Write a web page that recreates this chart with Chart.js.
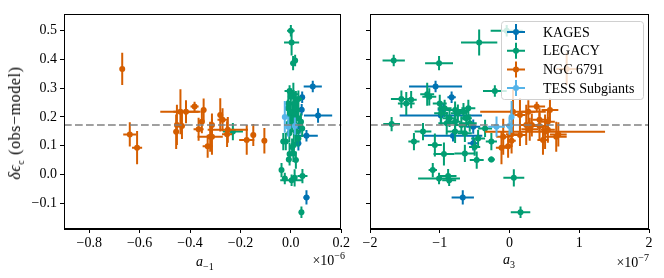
<!DOCTYPE html>
<html>
<head>
<meta charset="utf-8">
<script src="https://cdn.jsdelivr.net/npm/chart.js@4.4.1/dist/chart.umd.min.js"></script>
<style>
body { margin: 0; background: #fff; }
#wrap { position: relative; width: 664px; height: 278px; font-family: 'Liberation Serif', serif; color: #000; }
canvas { position: absolute; top: 0; }
.lbl { position: absolute; font-size: 14px; white-space: nowrap; line-height: 1; }
.lbl .sub { font-size: 10px; position: relative; top: 4px; }
.lbl .sup { font-size: 10px; position: relative; top: -6px; }
</style>
</head>
<body>
<div id="wrap">
  <canvas id="leftChart" width="352" height="278" style="left:0"></canvas>
  <canvas id="rightChart" width="312" height="278" style="left:352px"></canvas>
  <div class="lbl" style="left:196px;top:255px"><i>a</i><span class="sub">−1</span></div>
  <div class="lbl" style="left:503px;top:253px"><i>a</i><span class="sub">3</span></div>
  <div class="lbl" style="right:319px;top:254px">×10<span class="sup">−6</span></div>
  <div class="lbl" style="right:15px;top:256px">×10<span class="sup">−7</span></div>
  <div class="lbl" style="left:15px;top:123px;font-size:16px;letter-spacing:0.6px;transform:translate(-50%,-50%) rotate(-90deg)"><i>δϵ</i><span class="sub">c</span> (obs−model)</div>
</div>
<script>
// 颜色 (seaborn colorblind)
const colKages = '#0173b2';
const colLegacy = '#029e73';
const colNgc = '#d55e00';
const colTess = '#56b4e9';

// KAGES
const kagesY      = [0.306, 0.268, 0.205, 0.134, 0.166, 0.108, -0.080, 0.225];
const kagesYErr   = [0.020, 0.020, 0.025, 0.020, 0.025, 0.025, 0.025, 0.020];
const kagesAm1    = [0.087, 0.045, 0.108, 0.062, 0.035, 0.030, 0.062, 0.043];
const kagesAm1Err = [0.036, 0.010, 0.056, 0.045, 0.015, 0.010, 0.012, 0.010];
const kagesA3     = [-1.06, -0.83, -0.985, -0.81, -0.52, -0.52, -0.67, -0.95];
const kagesA3Err  = [0.38, 0.06, 0.59, 0.42, 0.10, 0.08, 0.16, 0.08];

// LEGACY
const legacyY      = [0.500, 0.459, 0.396, 0.387, 0.290, 0.279, 0.260, 0.247, 0.262, 0.270, 0.247, 0.230, 0.213, 0.224, 0.213,
                      0.218, 0.230, 0.195, 0.195, 0.178, 0.183, 0.172, 0.178, 0.175, 0.149, 0.114, 0.102, 0.149, 0.143, 0.125,
                      0.160, 0.114, 0.071, 0.073, 0.050, 0.052, 0.015, -0.014, -0.006, -0.020, -0.012, -0.132, 0.095];
const legacyYErr   = [0.020, 0.045, 0.020, 0.025, 0.020, 0.040, 0.030, 0.040, 0.030, 0.030, 0.030, 0.030, 0.040, 0.030, 0.030,
                      0.030, 0.030, 0.030, 0.030, 0.040, 0.030, 0.030, 0.030, 0.025, 0.030, 0.030, 0.040, 0.040, 0.030, 0.030,
                      0.030, 0.030, 0.040, 0.030, 0.030, 0.010, 0.025, 0.020, 0.025, 0.020, 0.030, 0.020, 0.030];
const legacyAm1    = [0.000, 0.003, 0.017, 0.009, -0.005, 0.010, 0.020, -0.010, 0.030, 0.000, 0.015, -0.012, 0.005, 0.025, 0.010,
                      -0.003, 0.020, 0.012, 0.030, 0.000, 0.040, 0.018, -0.008, 0.006, -0.230, -0.020, 0.012, 0.020, -0.006, 0.030,
                      0.045, -0.030, -0.005, 0.010, 0.020, -0.008, -0.037, -0.024, 0.046, 0.003, 0.015, 0.042, 0.005];
const legacyAm1Err = [0.015, 0.030, 0.010, 0.010, 0.020, 0.020, 0.010, 0.010, 0.015, 0.010, 0.010, 0.010, 0.010, 0.010, 0.010,
                      0.010, 0.010, 0.010, 0.010, 0.010, 0.010, 0.010, 0.010, 0.010, 0.040, 0.010, 0.010, 0.020, 0.010, 0.010,
                      0.010, 0.010, 0.010, 0.010, 0.010, 0.010, 0.005, 0.010, 0.020, 0.045, 0.010, 0.010, 0.010];
const legacyA3     = [-0.04, -0.435, -1.66, -1.01, -0.21, -1.18, -1.41, -1.48, -1.55, -1.15, -1.00, -0.93, -0.98, -0.78, -0.74,
                      -0.66, -0.59, -0.62, -0.86, -0.90, -0.78, -0.69, -0.57, -1.69, -1.24, -1.37, -1.07, -0.78, -0.64, -0.45,
                      -0.35, -0.26, -0.94, -0.64, -0.47, -0.26, -1.10, -1.01, -0.88, -0.865, 0.062, 0.158, -0.50];
const legacyA3Err  = [0.23, 0.26, 0.16, 0.20, 0.17, 0.10, 0.08, 0.12, 0.15, 0.10, 0.10, 0.10, 0.10, 0.12, 0.10,
                      0.08, 0.10, 0.08, 0.10, 0.12, 0.08, 0.08, 0.10, 0.12, 0.12, 0.08, 0.10, 0.12, 0.10, 0.10,
                      0.10, 0.08, 0.15, 0.15, 0.10, 0.05, 0.06, 0.30, 0.12, 0.10, 0.15, 0.14, 0.08];

// NGC 6791
const ngcY      = [0.367, 0.139, 0.093, 0.172, 0.148, 0.218, 0.168, 0.218, 0.236, 0.224, 0.183, 0.157, 0.131, 0.131, 0.172,
                   0.207, 0.190, 0.155, 0.140, 0.120, 0.137, 0.117, 0.098];
const ngcYErr   = [0.056, 0.042, 0.058, 0.070, 0.060, 0.078, 0.045, 0.040, 0.017, 0.040, 0.040, 0.040, 0.052, 0.063, 0.040,
                   0.058, 0.040, 0.045, 0.045, 0.052, 0.038, 0.044, 0.040];
const ngcAm1    = [-0.669, -0.639, -0.610, -0.452, -0.455, -0.438, -0.432, -0.416, -0.382, -0.346, -0.353, -0.366, -0.320, -0.313, -0.313,
                   -0.280, -0.271, -0.250, -0.253, -0.175, -0.149, -0.105, -0.330];
const ngcAm1Err = [0.005, 0.026, 0.020, 0.010, 0.010, 0.080, 0.010, 0.050, 0.016, 0.010, 0.010, 0.020, 0.050, 0.010, 0.010,
                   0.010, 0.020, 0.080, 0.020, 0.030, 0.010, 0.010, 0.020];
const ngcA3     = [0.82, 0.70, -0.115, 0.24, 0.51, 0.05, 0.43, 0.27, 0.39, 0.58, 0.55, 0.29, 0.67, -0.09, 0.32,
                   0.15, 0.43, 0.55, 0.03, 0.48, 0.15, 0.03, -0.02];
const ngcA3Err  = [0.15, 0.12, 0.08, 0.10, 0.86, 0.47, 0.12, 0.10, 0.12, 0.12, 0.10, 0.12, 0.15, 0.10, 0.10,
                   0.08, 0.10, 0.10, 0.08, 0.08, 0.10, 0.06, 0.06];

// TESS Subgiants
const tessY      = [0.200, 0.166, 0.168];
const tessYErr   = [0.055, 0.035, 0.030];
const tessAm1    = [-0.024, -0.010, 0.016];
const tessAm1Err = [0.005, 0.008, 0.008];
const tessA3     = [0.03, -0.186, 0.00];
const tessA3Err  = [0.03, 0.12, 0.05];

const refLine = 0.172;
const yTicksMin = -0.19, yTicksMax = 0.558;

Chart.defaults.font.family = "'Liberation Serif', serif";
Chart.defaults.font.size = 14;
Chart.defaults.color = '#000';

function makeSet(label, color, ys, yErr, xs, xErr, order) {
    return {
        label: label,
        data: ys.map((v, i) => ({ x: xs[i], y: v, xErr: xErr[i], yErr: yErr[i] })),
        backgroundColor: color,
        borderColor: color,
        pointRadius: 3,
        pointBorderWidth: 0,
        pointHoverRadius: 3,
        order: order
    };
}

function fmt(v, digits) {
    const s = Math.abs(v).toFixed(digits);
    return (v < -1e-9 ? '−' : '') + s;
}

// 误差棒
const errorBars = {
    id: 'errorBars',
    beforeDatasetDraw(chart, args) {
        const ds = chart.data.datasets[args.index];
        const { ctx, chartArea: a, scales: { x, y } } = chart;
        ctx.save();
        ctx.beginPath();
        ctx.rect(a.left, a.top, a.right - a.left, a.bottom - a.top);
        ctx.clip();
        ctx.strokeStyle = ds.borderColor;
        ctx.lineWidth = 2;
        ds.data.forEach(p => {
            const px = x.getPixelForValue(p.x), py = y.getPixelForValue(p.y);
            ctx.beginPath();
            ctx.moveTo(x.getPixelForValue(p.x - p.xErr), py);
            ctx.lineTo(x.getPixelForValue(p.x + p.xErr), py);
            ctx.moveTo(px, y.getPixelForValue(p.y - p.yErr));
            ctx.lineTo(px, y.getPixelForValue(p.y + p.yErr));
            ctx.stroke();
        });
        ctx.restore();
    },
    afterDatasetsDraw(chart) {
        const { ctx, chartArea: a, scales: { y } } = chart;
        const py = y.getPixelForValue(refLine);
        ctx.save();
        ctx.strokeStyle = 'rgba(128,128,128,0.75)';
        ctx.lineWidth = 2;
        ctx.setLineDash([7.7, 3.3]);
        ctx.beginPath();
        ctx.moveTo(a.left, py);
        ctx.lineTo(a.right, py);
        ctx.stroke();
        ctx.restore();
    },
    afterDraw(chart) {
        const { ctx, chartArea: a } = chart;
        ctx.save();
        ctx.strokeStyle = '#000';
        ctx.lineWidth = 1;
        ctx.strokeRect(Math.round(a.left) + 0.5, Math.round(a.top) + 0.5, Math.round(a.right - a.left) - 1, Math.round(a.bottom - a.top) - 1);
        ctx.restore();
    }
};

// 图例 (画在绘图区内)
const innerLegend = {
    id: 'innerLegend',
    afterDraw(chart) {
        const { ctx, chartArea: a } = chart;
        const w = 142, h = 78;
        const bx = a.right - 6 - w, by = a.top + 7;
        ctx.save();
        ctx.beginPath();
        ctx.roundRect(bx + 0.5, by + 0.5, w, h, 3);
        ctx.fillStyle = 'rgba(255,255,255,0.8)';
        ctx.fill();
        ctx.strokeStyle = '#d0d0d0';
        ctx.lineWidth = 1;
        ctx.stroke();
        ctx.font = "14px 'Liberation Serif', serif";
        ctx.textBaseline = 'middle';
        chart.data.datasets.forEach((ds, i) => {
            const cy = by + 11 + i * 18.7;
            const cx = bx + 15;
            ctx.strokeStyle = ds.borderColor;
            ctx.fillStyle = ds.borderColor;
            ctx.lineWidth = 2;
            ctx.beginPath();
            ctx.moveTo(cx - 9, cy); ctx.lineTo(cx + 9, cy);
            ctx.moveTo(cx, cy - 8); ctx.lineTo(cx, cy + 8);
            ctx.stroke();
            ctx.beginPath();
            ctx.arc(cx, cy, 3, 0, Math.PI * 2);
            ctx.fill();
            ctx.fillStyle = '#000';
            ctx.fillText(ds.label, bx + 42, cy + 1);
        });
        ctx.restore();
    }
};

function yAxis(showLabels, width) {
    return {
        min: yTicksMin,
        max: yTicksMax,
        border: { display: true, color: '#000', width: 1 },
        grid: { display: true, drawOnChartArea: false, drawTicks: true, tickLength: 4, color: '#000' },
        ticks: { display: showLabels, stepSize: 0.1, includeBounds: false, padding: 3, callback: v => fmt(v, 1) },
        afterFit(scale) { scale.width = width; }
    };
}

function xAxis(min, max, step, digits) {
    return {
        type: 'linear',
        min: min,
        max: max,
        border: { display: true, color: '#000', width: 1 },
        grid: { display: true, drawOnChartArea: false, drawTicks: true, tickLength: 4, color: '#000' },
        ticks: { stepSize: step, includeBounds: false, autoSkip: false, maxRotation: 0, padding: 2, callback: v => fmt(v, digits) },
        afterFit(scale) { scale.height = 49; }
    };
}

function buildChart(canvasId, useAm1, xOpts, yOpts, padRight, plugins) {
    const ctx = document.getElementById(canvasId).getContext('2d');
    const datasets = [
        makeSet('KAGES', colKages, kagesY, kagesYErr, useAm1 ? kagesAm1 : kagesA3, useAm1 ? kagesAm1Err : kagesA3Err, 3),
        makeSet('LEGACY', colLegacy, legacyY, legacyYErr, useAm1 ? legacyAm1 : legacyA3, useAm1 ? legacyAm1Err : legacyA3Err, 2),
        makeSet('NGC 6791', colNgc, ngcY, ngcYErr, useAm1 ? ngcAm1 : ngcA3, useAm1 ? ngcAm1Err : ngcA3Err, 1),
        makeSet('TESS Subgiants', colTess, tessY, tessYErr, useAm1 ? tessAm1 : tessA3, useAm1 ? tessAm1Err : tessA3Err, 0)
    ];
    return new Chart(ctx, {
        type: 'scatter',
        data: { datasets: datasets },
        options: {
            responsive: false,
            animation: false,
            layout: { padding: { top: 14, right: padRight, left: 0, bottom: 0 } },
            plugins: { legend: { display: false }, tooltip: { enabled: false } },
            scales: { x: xOpts, y: yOpts }
        },
        plugins: plugins
    });
}

buildChart('leftChart', true, xAxis(-0.9, 0.2, 0.2, 1), yAxis(true, 64), 7, [errorBars]);
buildChart('rightChart', false, xAxis(-2, 2, 1, 0), yAxis(false, 18), 15, [errorBars, innerLegend]);
</script>
</body>
</html>
